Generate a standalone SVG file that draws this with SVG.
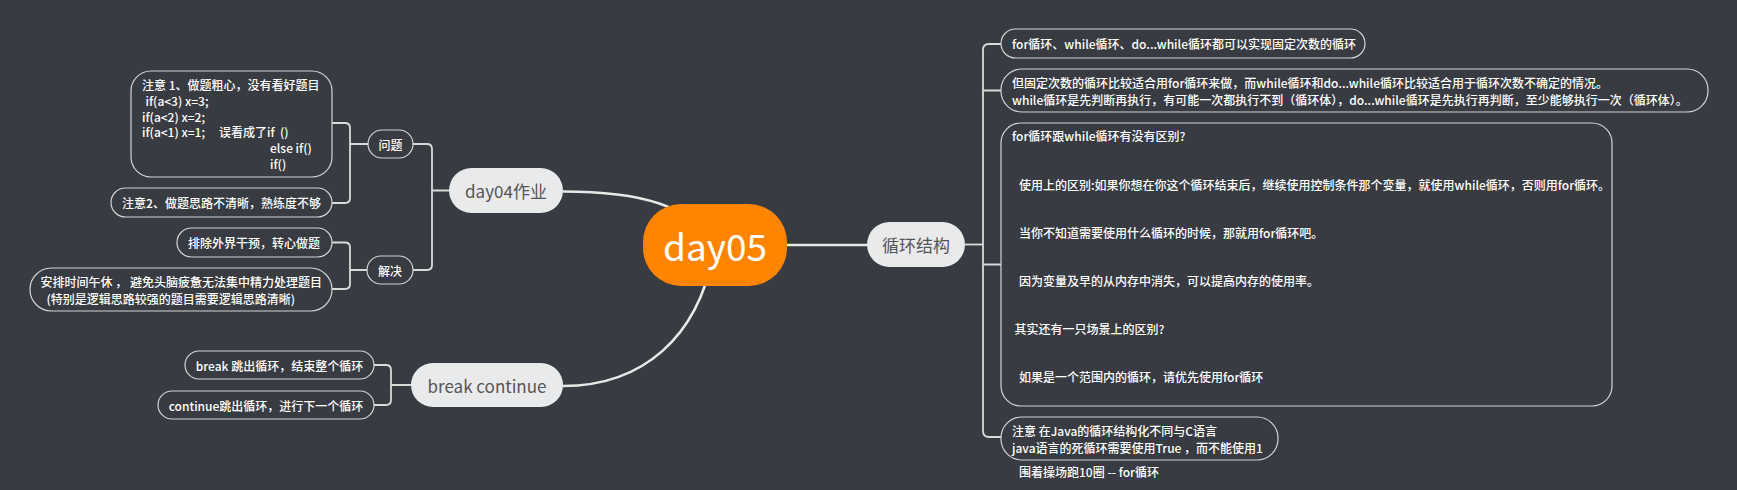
<svg xmlns="http://www.w3.org/2000/svg" width="1737" height="490" viewBox="0 0 1737 490">
<style>
.t{font-family:"Noto Sans CJK SC","Noto Sans",sans-serif;fill:#ffffff;font-size:12px;font-weight:500;dominant-baseline:central}
.m{text-anchor:middle}
.box{fill:#383b41;stroke:#d4d4d4;stroke-width:1.2}
.main{fill:#e9eaec}
.mt{font-family:"Noto Sans CJK SC","Noto Sans",sans-serif;font-size:17px;fill:#555555;text-anchor:middle;dominant-baseline:central}
.c1{fill:none;stroke:#e8e8e8;stroke-width:2.6}
.c2{fill:none;stroke:#dadada;stroke-width:1.8}
</style>
<rect width="1737" height="490" fill="#383b41"/>
<g id="connectors">
<path class="c1" d="M563,191.5 C640,191.5 690,205 715,245"/>
<path class="c1" d="M563,386 C640,386 700,340 715,245"/>
<path class="c1" d="M787,245 H867"/>
<path class="c2" d="M332,123 H345 Q350,123 350,128 V198 Q350,203 345,203 H332 M350,144 H368"/>
<path class="c2" d="M332,242.5 H345 Q350,242.5 350,247.5 V284 Q350,289 345,289 H332 M350,270 H367"/>
<path class="c2" d="M413,144 H427 Q432,144 432,149 V265 Q432,270 427,270 H413 M432,190.5 H449"/>
<path class="c2" d="M374,365 H386 Q391,365 391,370 V400 Q391,405 386,405 H374 M391,385 H411"/>
<path class="c2" d="M965,244.5 H983"/>
<path class="c2" d="M1001,44 H989 Q983,44 983,50 V431 Q983,437 989,437 H1001 M983,90.5 H1001 M983,264.5 H1001"/>
</g>
<g id="day05">
<rect x="643" y="204" width="144" height="82" rx="38" fill="#ff8500"/>
<text x="715" y="245" class="m" style="font-family:'Noto Sans CJK SC','Noto Sans',sans-serif;font-size:37px;fill:#ffffff;dominant-baseline:central">day05</text>
</g>
<g id="day04">
<rect class="main" x="449" y="168" width="114" height="45" rx="22.5"/>
<text class="mt" x="506" y="190.5">day04作业</text>
</g>
<g id="wenti">
<rect class="box" x="368" y="130" width="45" height="28" rx="14"/>
<text class="t m" x="390.5" y="144">问题</text>
</g>
<g id="jiejue">
<rect class="box" x="367" y="256" width="46" height="28" rx="14"/>
<text class="t m" x="390" y="270">解决</text>
</g>
<g id="note1">
<rect class="box" x="131" y="71" width="201" height="106" rx="20"/>
<text class="t" xml:space="preserve"><tspan x="142" y="84">注意 1、做题粗心，没有看好题目</tspan><tspan x="145.5" y="100">if(a&lt;3) x=3;</tspan><tspan x="142" y="115.5">if(a&lt;2) x=2;</tspan><tspan x="142" y="131">if(a&lt;1) x=1;</tspan><tspan x="219" y="131">误看成了if  ()</tspan><tspan x="270" y="147">else if()</tspan><tspan x="270" y="163">if()</tspan></text>
</g>
<g id="note2">
<rect class="box" x="111" y="188" width="221" height="29" rx="14.5"/>
<text class="t m" x="221.5" y="202.5">注意2、做题思路不清晰，熟练度不够</text>
</g>
<g id="sol1">
<rect class="box" x="177" y="228" width="155" height="29" rx="14.5"/>
<text class="t m" x="254" y="242.5">排除外界干预，转心做题</text>
</g>
<g id="sol2">
<rect class="box" x="30" y="268" width="302" height="43" rx="21.5"/>
<text class="t" xml:space="preserve"><tspan x="40.5" y="281">安排时间午休 ， 避免头脑疲惫无法集中精力处理题目</tspan><tspan x="46.5" y="297.5">(特别是逻辑思路较强的题目需要逻辑思路清晰)</tspan></text>
</g>
<g id="breakcontinue">
<rect class="main" x="411" y="363" width="152" height="44" rx="22"/>
<text class="mt" x="487" y="385">break continue</text>
</g>
<g id="break">
<rect class="box" x="185" y="351" width="189" height="28" rx="14"/>
<text class="t m" x="279.5" y="365">break 跳出循环，结束整个循环</text>
</g>
<g id="continue">
<rect class="box" x="158" y="391" width="216" height="28" rx="14"/>
<text class="t m" x="266" y="405">continue跳出循环，进行下一个循环</text>
</g>
<g id="loop">
<rect class="main" x="867" y="222" width="98" height="45" rx="22.5"/>
<text class="mt" x="916" y="244.5">循环结构</text>
</g>
<g id="r1">
<rect class="box" x="1001" y="29" width="364" height="29" rx="14.5"/>
<text class="t" x="1012" y="43.5">for循环、while循环、do...while循环都可以实现固定次数的循环</text>
</g>
<g id="r2">
<rect class="box" x="1001" y="69" width="707" height="43" rx="21"/>
<text class="t"><tspan x="1012" y="82">但固定次数的循环比较适合用for循环来做，而while循环和do...while循环比较适合用于循环次数不确定的情况。</tspan><tspan x="1012" y="98.5">while循环是先判断再执行，有可能一次都执行不到（循环体），do...while循环是先执行再判断，至少能够执行一次（循环体）。</tspan></text>
</g>
<g id="r3">
<rect class="box" x="1001" y="123" width="611" height="283" rx="20"/>
<text class="t"><tspan x="1012" y="135">for循环跟while循环有没有区别?</tspan><tspan x="1019" y="183.5">使用上的区别:如果你想在你这个循环结束后，继续使用控制条件那个变量，就使用while循环，否则用for循环。</tspan><tspan x="1019" y="232">当你不知道需要使用什么循环的时候，那就用for循环吧。</tspan><tspan x="1019" y="280">因为变量及早的从内存中消失，可以提高内存的使用率。</tspan><tspan x="1014.5" y="328">其实还有一只场景上的区别?</tspan><tspan x="1019" y="376">如果是一个范围内的循环，请优先使用for循环</tspan></text>
</g>
<g id="r4">
<rect class="box" x="1001" y="417" width="277" height="43" rx="21"/>
<text class="t"><tspan x="1012" y="430">注意 在Java的循环结构化不同与C语言</tspan><tspan x="1012" y="446.5">java语言的死循环需要使用True ，而不能使用1</tspan></text>
</g>
<g id="r4label">
<text class="t" x="1019" y="471.5">围着操场跑10圈 -- for循环</text>
</g>
</svg>
